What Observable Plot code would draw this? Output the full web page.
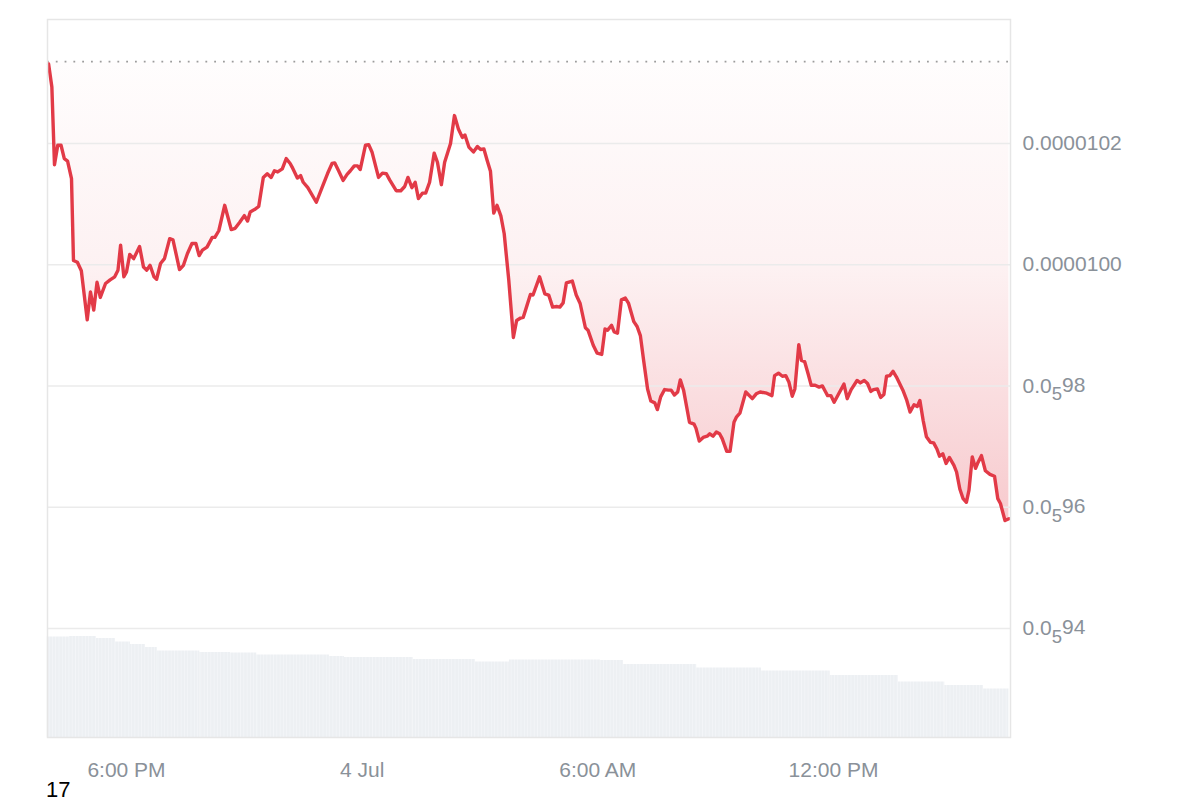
<!DOCTYPE html>
<html>
<head>
<meta charset="utf-8">
<script src="https://cdn.jsdelivr.net/npm/d3@7"></script>
<script src="https://cdn.jsdelivr.net/npm/@observablehq/plot@0.6"></script>
<style>
  html, body { margin: 0; padding: 0; background: #fff; overflow: hidden; }
  #wrap { width: 1200px; height: 800px; position: relative; font-family: "Liberation Sans", Arial, sans-serif; }
  #below { position: absolute; left: 46px; top: 781px; font-size: 22px; line-height: 18px; color: #000; }
</style>
</head>
<body>
<div id="wrap"><div id="chart"></div><div id="below">17</div></div>
<script>
// ---- data ----
const times = [
"07-03T16:01","07-03T16:06","07-03T16:10","07-03T16:15","07-03T16:20","07-03T16:25","07-03T16:30","07-03T16:36","07-03T16:39","07-03T16:45",
"07-03T16:51","07-03T17:00","07-03T17:05","07-03T17:10","07-03T17:15","07-03T17:20","07-03T17:28","07-03T17:35","07-03T17:42","07-03T17:47",
"07-03T17:51","07-03T17:56","07-03T18:00","07-03T18:05","07-03T18:11","07-03T18:20","07-03T18:26","07-03T18:31","07-03T18:36","07-03T18:42",
"07-03T18:46","07-03T18:52","07-03T18:58","07-03T19:06","07-03T19:11","07-03T19:21","07-03T19:27","07-03T19:33","07-03T19:40","07-03T19:46",
"07-03T19:51","07-03T19:56","07-03T20:03","07-03T20:11","07-03T20:15","07-03T20:21","07-03T20:30","07-03T20:40","07-03T20:46","07-03T20:53",
"07-03T21:00","07-03T21:05","07-03T21:09","07-03T21:17","07-03T21:22","07-03T21:29","07-03T21:35","07-03T21:41","07-03T21:46","07-03T21:51",
"07-03T21:58","07-03T22:04","07-03T22:10","07-03T22:13","07-03T22:21","07-03T22:26","07-03T22:30","07-03T22:37","07-03T22:50","07-03T22:59",
"07-03T23:07","07-03T23:14","07-03T23:18","07-03T23:24","07-03T23:31","07-03T23:37","07-03T23:42","07-03T23:48","07-03T23:53","07-03T23:57",
"07-04T00:05","07-04T00:10","07-04T00:15","07-04T00:25","07-04T00:31","07-04T00:37","07-04T00:42","07-04T00:52","07-04T00:59","07-04T01:05",
"07-04T01:10","07-04T01:16","07-04T01:21","07-04T01:26","07-04T01:32","07-04T01:37","07-04T01:43","07-04T01:50","07-04T01:55","07-04T02:01",
"07-04T02:06","07-04T02:15","07-04T02:21","07-04T02:27","07-04T02:33","07-04T02:37","07-04T02:43","07-04T02:50","07-04T02:56","07-04T03:01",
"07-04T03:06","07-04T03:11","07-04T03:16","07-04T03:21","07-04T03:26","07-04T03:32","07-04T03:37","07-04T03:44","07-04T03:51","07-04T03:56",
"07-04T04:02","07-04T04:06","07-04T04:11","07-04T04:17","07-04T04:21","07-04T04:31","07-04T04:39","07-04T04:45","07-04T04:51","07-04T04:57",
"07-04T05:02","07-04T05:07","07-04T05:12","07-04T05:21","07-04T05:27","07-04T05:33","07-04T05:41","07-04T05:45","07-04T05:53","07-04T05:59",
"07-04T06:06","07-04T06:11","07-04T06:15","07-04T06:21","07-04T06:25","07-04T06:30","07-04T06:36","07-04T06:42","07-04T06:47","07-04T06:55",
"07-04T07:00","07-04T07:05","07-04T07:10","07-04T07:16","07-04T07:21","07-04T07:27","07-04T07:31","07-04T07:36","07-04T07:42","07-04T07:48",
"07-04T07:52","07-04T07:57","07-04T08:02","07-04T08:06","07-04T08:11","07-04T08:20","07-04T08:27","07-04T08:30","07-04T08:35","07-04T08:41",
"07-04T08:47","07-04T08:51","07-04T08:56","07-04T09:01","07-04T09:06","07-04T09:10","07-04T09:17","07-04T09:22","07-04T09:28","07-04T09:32",
"07-04T09:37","07-04T09:46","07-04T09:56","07-04T10:02","07-04T10:08","07-04T10:18","07-04T10:26","07-04T10:30","07-04T10:36","07-04T10:42",
"07-04T10:47","07-04T10:52","07-04T10:57","07-04T11:01","07-04T11:07","07-04T11:11","07-04T11:16","07-04T11:21","07-04T11:26","07-04T11:32",
"07-04T11:38","07-04T11:43","07-04T11:48","07-04T11:51","07-04T11:56","07-04T12:01","07-04T12:08","07-04T12:16","07-04T12:21","07-04T12:27",
"07-04T12:36","07-04T12:41","07-04T12:47","07-04T12:52","07-04T12:57","07-04T13:01","07-04T13:07","07-04T13:12","07-04T13:17","07-04T13:21",
"07-04T13:26","07-04T13:31","07-04T13:36","07-04T13:46","07-04T13:52","07-04T13:57","07-04T14:03","07-04T14:08","07-04T14:12","07-04T14:17",
"07-04T14:22","07-04T14:28","07-04T14:33","07-04T14:38","07-04T14:42","07-04T14:47","07-04T14:52","07-04T14:57","07-04T15:04","07-04T15:08",
"07-04T15:13","07-04T15:18","07-04T15:23","07-04T15:27","07-04T15:32","07-04T15:37","07-04T15:40","07-04T15:46","07-04T15:52","07-04T15:59",
"07-04T16:06","07-04T16:11","07-04T16:15","07-04T16:22","07-04T16:28"
];
// price × 1e8
const pricesE8 = [
1033.1,1029.3,1016.5,1019.7,1019.7,1017.5,1017.1,1014.2,1000.7,1000.4,
999.0,990.9,995.5,992.5,997.1,994.6,996.9,997.5,998.0,999.1,
1003.2,998.0,998.8,1001.7,1001.0,1003.0,999.6,999.1,999.9,998.0,
997.6,1000.2,1001.0,1004.3,1004.1,999.2,999.9,1001.8,1003.5,1003.5,
1001.5,1002.4,1002.9,1004.5,1004.5,1005.6,1009.8,1005.8,1006.0,1007.0,
1008.1,1007.2,1008.7,1009.2,1009.6,1014.4,1015.0,1014.4,1015.5,1015.3,
1015.8,1017.5,1016.7,1016.1,1014.3,1014.7,1013.6,1012.7,1010.3,1012.8,
1015.0,1016.7,1016.8,1015.5,1013.9,1014.9,1015.5,1016.3,1016.3,1015.7,
1019.7,1019.8,1018.6,1014.4,1015.1,1015.0,1014.0,1012.2,1012.2,1012.9,
1014.4,1012.7,1013.6,1010.9,1011.8,1011.8,1013.6,1018.4,1016.9,1013.2,
1016.9,1020.0,1024.6,1022.4,1021.0,1021.4,1019.4,1018.6,1019.5,1019.0,
1019.1,1017.2,1015.4,1008.5,1009.8,1008.0,1005.1,997.4,988.0,990.8,
991.2,991.3,993.0,995.1,995.0,998.0,995.2,995.0,993.0,993.1,
993.0,993.7,997.0,997.3,995.0,993.6,989.6,989.2,986.7,985.4,
985.2,989.4,989.2,990.0,988.9,988.7,994.2,994.5,993.6,990.6,
989.8,988.3,984.2,979.5,977.5,977.2,976.1,978.2,979.4,979.3,
979.3,978.5,979.0,981.0,979.3,974.0,973.7,973.0,970.9,971.5,
971.7,972.1,971.7,972.4,972.1,971.3,969.2,969.2,974.0,974.9,
975.5,979.0,977.9,978.7,979.0,978.8,978.4,981.7,982.1,981.6,
981.7,980.6,978.3,979.5,986.8,984.2,984.0,982.1,980.1,980.1,
979.8,980.0,979.0,978.4,978.4,977.3,978.7,980.3,977.9,979.4,
980.9,980.5,980.9,980.4,979.1,979.4,979.5,978.1,978.6,981.6,
981.7,982.4,981.5,979.3,977.6,975.7,976.9,976.6,977.6,974.3,
971.6,970.7,970.6,969.6,968.4,968.8,967.2,968.2,966.9,965.8,
963.0,961.4,960.8,962.8,968.3,966.4,967.2,968.5,966.0,965.4,
965.1,961.4,960.6,957.8,958.1
];
const openPriceE8 = 1033.5; // dotted reference line
// volume (arbitrary units, M) per period start
const volStarts = ["07-03T15:59","07-03T16:33","07-03T17:14","07-03T17:43","07-03T18:06","07-03T18:29","07-03T18:47","07-03T19:52","07-03T20:39","07-03T21:19","07-03T23:10","07-03T23:33","07-04T01:18","07-04T02:53","07-04T03:45","07-04T06:04","07-04T06:39","07-04T08:31","07-04T10:10","07-04T11:55","07-04T13:39","07-04T14:50","07-04T15:49"];
const volEnd = "07-04T16:28";
const volumes = [2.01,2.02,1.98,1.91,1.86,1.80,1.73,1.70,1.69,1.65,1.62,1.60,1.56,1.51,1.55,1.54,1.46,1.39,1.33,1.24,1.11,1.04,0.97];
// axis ticks
const xTickTimes = ["07-03T18:00","07-04T00:00","07-04T06:00","07-04T12:00"];
const xTickLabels = ["6:00 PM","4 Jul","6:00 AM","12:00 PM"];
const yTicksE8 = [1020, 1000, 980, 960, 940];
const yTickLabels = ["0.0000102","0.0000100","0.0₅98","0.0₅96","0.0₅94"];

// ---- build ----
const toDate = s => new Date("2024-" + s + ":00Z");
const data = times.map((t, i) => ({date: toDate(t), price: pricesE8[i] * 1e-8}));
const openPrice = openPriceE8 * 1e-8;
const yDomain = [922.0e-8, 1040.45e-8];
const xDomain = [new Date("2024-07-03T15:59:20Z"), new Date("2024-07-04T16:30:24Z")];
// volume mapped into bottom band of the price scale
const volToPrice = d3.scaleLinear().domain([0, 14.36]).range(yDomain);
const volData = volumes.map((v, i) => ({
  x1: toDate(volStarts[i]),
  x2: toDate(i + 1 < volStarts.length ? volStarts[i + 1] : volEnd),
  vol: v
}));
const xTicks = xTickTimes.map(toDate);
const yTicks = yTicksE8.map(v => v * 1e-8);

const chart = Plot.plot({
  width: 1200,
  height: 781,
  marginLeft: 47,
  marginRight: 190,
  marginTop: 19,
  marginBottom: 44,
  style: {fontFamily: '"Liberation Sans", Arial, sans-serif', fontSize: "21px", color: "#8a9199", background: "#fff"},
  x: {type: "utc", domain: xDomain, label: null},
  y: {domain: yDomain, label: null},
  marks: [
    Plot.areaY(data, {x: "date", y1: openPrice, y2: "price", fill: "url(#redFade)", curve: "linear"}),
    Plot.gridY(yTicks, {stroke: "#ebebeb", strokeOpacity: 1, strokeWidth: 1.5}),
    Plot.rect(volData, {x1: "x1", x2: "x2", y1: () => volToPrice(0), y2: d => volToPrice(d.vol), fill: "url(#volStripes)"}),
    Plot.ruleY([openPrice], {stroke: "#9c9c9c", strokeWidth: 1.8, strokeDasharray: "1.8,7"}),
    Plot.line(data, {x: "date", y: "price", stroke: "#e23a47", strokeWidth: 3.4, strokeLinejoin: "round", strokeLinecap: "round"}),
    Plot.frame({stroke: "#e6e6e6", strokeWidth: 1.5}),
    Plot.axisX({ticks: xTicks, tickSize: 0, tickPadding: 25, fill: "#8a9199", label: null,
      tickFormat: d => xTickLabels[xTicks.findIndex(t => +t === +d)]}),
    Plot.axisY({anchor: "right", ticks: yTicks, tickSize: 0, tickPadding: 12, fill: "#8a9199", label: null,
      tickFormat: d => yTickLabels[yTicks.findIndex(t => Math.abs(t - d) < 1e-12)]})
  ]
});

// gradient + stripe pattern definitions
const ns = "http://www.w3.org/2000/svg";
const defs = document.createElementNS(ns, "defs");
defs.innerHTML = `
  <linearGradient id="redFade" x1="0" y1="0" x2="0" y2="1">
    <stop offset="0" stop-color="#e23a47" stop-opacity="0.01"/>
    <stop offset="0.45" stop-color="#e23a47" stop-opacity="0.07"/>
    <stop offset="1" stop-color="#e23a47" stop-opacity="0.27"/>
  </linearGradient>
  <pattern id="volStripes" patternUnits="userSpaceOnUse" width="3.3" height="10">
    <rect x="0" y="0" width="3.3" height="10" fill="#edf0f3"/>
    <rect x="2.7" y="0" width="0.6" height="10" fill="#f6f8fa"/>
  </pattern>`;
chart.insertBefore(defs, chart.firstChild);

// subscript notation for the small y labels
d3.select(chart).selectAll('g[aria-label="y-axis tick label"] text').each(function() {
  const txt = this.textContent;
  if (!txt.includes("₅")) return;
  const [a, b] = txt.split("₅");
  const el = d3.select(this);
  el.text(null);
  el.append("tspan").text(a);
  el.append("tspan").attr("dy", "0.42em").attr("font-size", "0.88em").text("5");
  el.append("tspan").attr("dy", "-0.42em").text(b);
});

document.getElementById("chart").appendChild(chart);
</script>
</body>
</html>
